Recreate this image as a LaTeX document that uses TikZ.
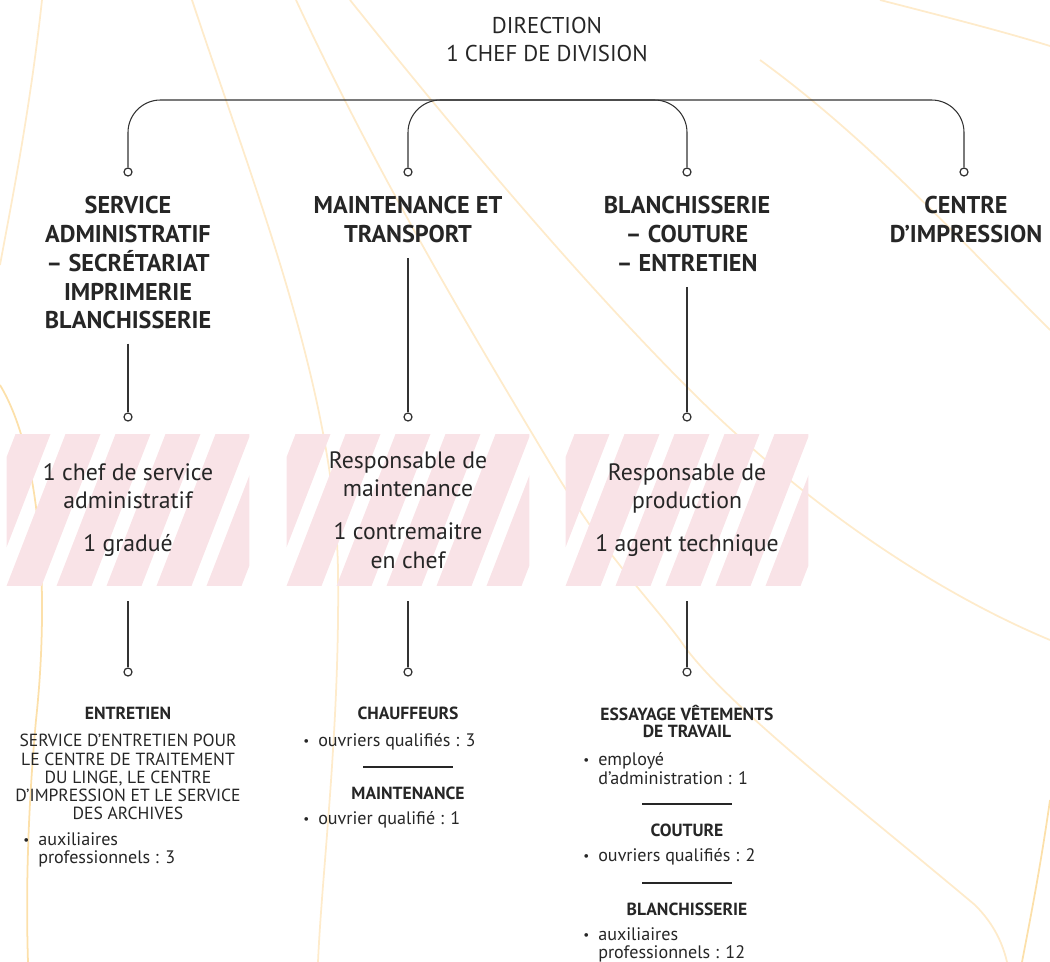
\documentclass[tikz,border=0pt]{standalone}
\usepackage{fontspec}
\setmainfont{PT Sans}
\usetikzlibrary{positioning}

\definecolor{ink}{HTML}{262626}
\definecolor{linegray}{HTML}{333333}
\definecolor{stripepink}{HTML}{F9E3E7}
\definecolor{swirl}{HTML}{FEEBCB}
\definecolor{swirldeep}{HTML}{FCE0AA}

\newcommand{\bul}{\makebox[8.5pt][l]{\fontsize{7.5}{7.5}\selectfont\raisebox{0.6pt}{•}}}
\newcommand{\ind}{\makebox[8.5pt]{}}

\begin{document}
\begin{tikzpicture}[
    x=0.02cm, y=-0.02cm,
    headtext/.style={
      font=\fontsize{13}{16}\selectfont, text=ink,
      align=center, inner sep=0pt, anchor=north
    },
    title/.style={
      font=\fontsize{13.8}{16.4}\selectfont\bfseries, text=ink,
      align=center, inner sep=0pt, anchor=north
    },
    stripebox/.style={
      minimum width=4.86cm, minimum height=3.04cm, inner sep=0pt,
      font=\fontsize{13.5}{16.4}\selectfont, text=ink, align=center,
      path picture={
        \foreach \k in {-1,...,4}
          \fill[stripepink] ([xshift=\k cm]path picture bounding box.south west)
            -- ++(0.7cm,0) -- ++(1.18cm,3.04cm) -- ++(-0.7cm,0) -- cycle;
      }
    },
    subhead/.style={
      font=\fontsize{10}{9.6}\selectfont\bfseries, text=ink,
      align=center, inner sep=0pt, anchor=north
    },
    capsline/.style={
      font=\fontsize{10}{10.4}\selectfont, text=ink,
      align=center, inner sep=0pt, anchor=north
    },
    itemlist/.style={
      font=\fontsize{10.3}{10.6}\selectfont, text=ink,
      align=left, inner sep=0pt, anchor=north west
    },
    knob/.style={
      circle, draw=linegray, fill=white, line width=0.7pt,
      inner sep=0pt, minimum size=0.16cm
    },
    link/.style={draw=linegray, line width=0.6pt},
    rulesep/.style={draw=ink, line width=1.4pt},
    swirlline/.style={swirl, line width=1pt}
  ]

    \useasboundingbox (0,0) rectangle (1050,962);

    % Background swirls
    \begin{scope}
      \clip (0,0) rectangle (1050,962);
      \draw[swirlline] (42,0) .. controls (30,110) and (12,200) .. (0,265);
      \draw[swirlline, swirldeep] (0,385) .. controls (45,460) and (48,610) .. (36,720)
        .. controls (27,820) and (26,900) .. (28,962);
      \draw[swirlline] (192,0) .. controls (255,190) and (335,390) .. (338,570)
        .. controls (340,730) and (322,870) .. (318,962);
      \draw[swirlline] (296,0) .. controls (380,180) and (470,330) .. (560,480)
        .. controls (610,560) and (650,600) .. (680,640)
        .. controls (720,700) and (850,800) .. (975,905)
        .. controls (995,925) and (1003,945) .. (1007,962);
      \draw[swirlline] (350,0) .. controls (470,150) and (590,290) .. (690,390)
        .. controls (800,500) and (930,590) .. (1050,640);
      \draw[swirlline] (880,0) .. controls (950,18) and (1005,32) .. (1050,46);
      \draw[swirlline] (760,60) .. controls (870,140) and (960,240) .. (1050,330);
      \draw[swirlline, swirldeep] (1050,800) .. controls (1040,870) and (1030,920) .. (1022,962);
    \end{scope}

    % Direction (top)
    \node[headtext] (direction) at (547,17) {DIRECTION\\1 CHEF DE DIVISION};
    \coordinate (dirbar) at (547,100);

    % Knobs under the bracket
    \node[knob] (cA) at (128,172) {};
    \node[knob] (cB) at (408,172) {};
    \node[knob] (cC) at (687,172) {};
    \node[knob] (cD) at (964,172) {};

    % Services (titles)
    \node[title] (service) at (128,196) {SERVICE\\ADMINISTRATIF\\– SECRÉTARIAT\\IMPRIMERIE\\BLANCHISSERIE};
    \node[title] (maint)   at (408,196) {MAINTENANCE ET\\TRANSPORT};
    \node[title] (blanch)  at (687,196) {BLANCHISSERIE\\– COUTURE\\– ENTRETIEN};
    \node[title] (centre)  at (966,196) {CENTRE\\D’IMPRESSION};

    % Knobs above the striped boxes
    \node[knob] (c1b) at (128,417) {};
    \node[knob] (c2b) at (408,417) {};
    \node[knob] (c3b) at (687,417) {};

    % Striped boxes (heads of service)
    \node[stripebox] (chefadm)   at (128,510) {1 chef de service\\administratif\\[8pt]1 gradué};
    \node[stripebox] (respmaint) at (408,510) {Responsable de\\maintenance\\[8pt]1 contremaitre\\en chef};
    \node[stripebox] (respprod)  at (687,510) {Responsable de\\production\\[8pt]1 agent technique};

    % Knobs under the striped boxes
    \node[knob] (c1c) at (128,672) {};
    \node[knob] (c2c) at (408,672) {};
    \node[knob] (c3c) at (687,672) {};

    % Staff (bottom row)
    \node[subhead]  (entretien) at (128,707) {ENTRETIEN};
    \node[capsline] (entdesc)   at (128,734) {SERVICE D’ENTRETIEN POUR\\LE CENTRE DE TRAITEMENT\\DU LINGE, LE CENTRE\\D’IMPRESSION ET LE SERVICE\\DES ARCHIVES};
    \node[itemlist] (entlist)   at (23,832) {\bul auxiliaires\\\ind professionnels : 3};

    \node[subhead]  (chauff)    at (408,707) {CHAUFFEURS};
    \node[itemlist] (chauflist) at (303,733) {\bul ouvriers qualifiés : 3};
    \node[subhead]  (maintsub)  at (408,787) {MAINTENANCE};
    \node[itemlist] (maintlist) at (303,811) {\bul ouvrier qualifié : 1};

    \node[subhead]  (essai)       at (687,705) {ESSAYAGE VÊTEMENTS\\DE TRAVAIL};
    \node[itemlist] (essailist)   at (583,752) {\bul employé\\\ind d’administration : 1};
    \node[subhead]  (couture)     at (687,824) {COUTURE};
    \node[itemlist] (couturelist) at (583,848) {\bul ouvriers qualifiés : 2};
    \node[subhead]  (blanchsub)   at (687,903) {BLANCHISSERIE};
    \node[itemlist] (blanchlist)  at (583,927) {\bul auxiliaires\\\ind professionnels : 12};

    % Separators
    \draw[rulesep] (363,767) -- (453,767);
    \draw[rulesep] (642,804) -- (732,804);
    \draw[rulesep] (642,883) -- (732,883);

    % Bracket: direction -> services
    \draw[link, rounded corners=0.65cm] (cA.north) |- (dirbar) -| (cD.north);
    \draw[link, rounded corners=0.65cm] (cB.north) |- (dirbar) -| (cC.north);

    % Services -> heads
    \draw[link, shorten <=0.28cm] (service) -- (c1b);
    \draw[link, shorten <=0.3cm]  (maint)   -- (c2b);
    \draw[link, shorten <=0.3cm]  (blanch)  -- (c3b);

    % Heads -> staff
    \draw[link, shorten <=0.3cm] (chefadm)   -- (c1c);
    \draw[link, shorten <=0.3cm] (respmaint) -- (c2c);
    \draw[link, shorten <=0.3cm] (respprod)  -- (c3c);

  \end{tikzpicture}
\end{document}
